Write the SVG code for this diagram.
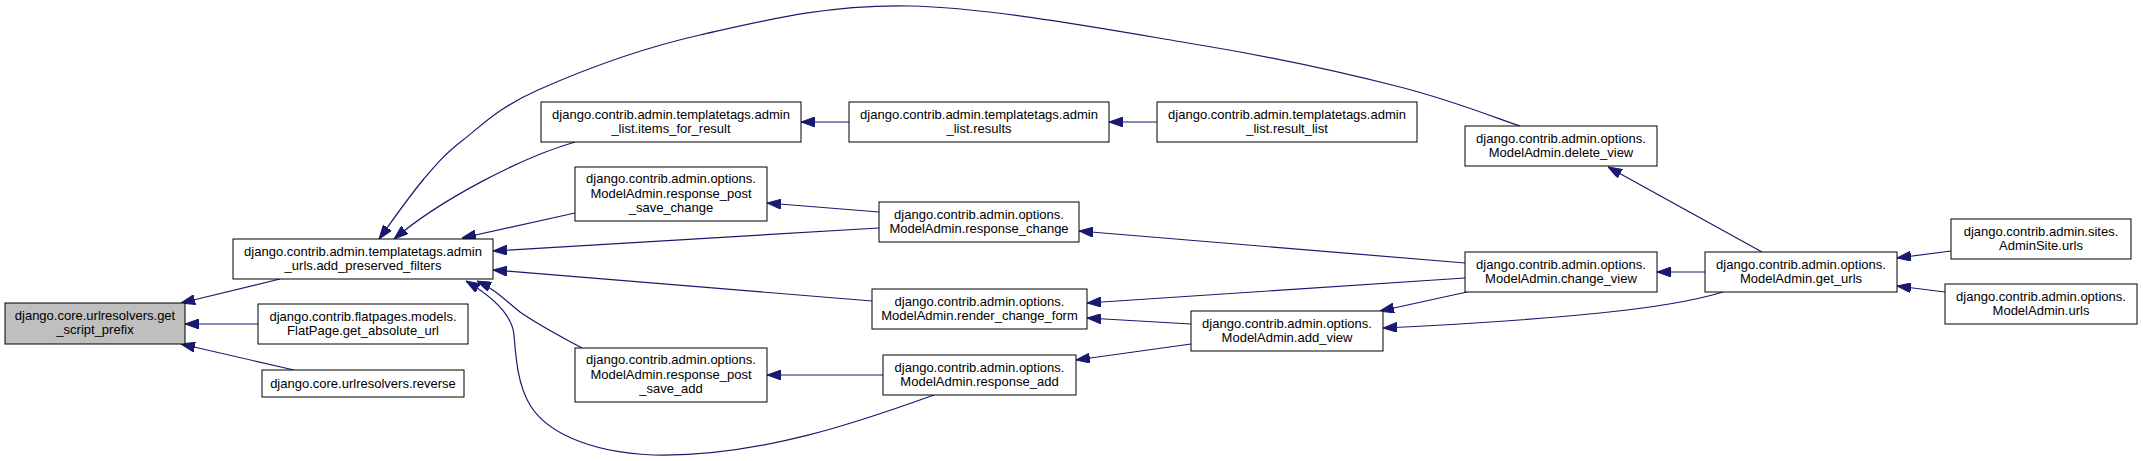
<svg xmlns="http://www.w3.org/2000/svg" width="2143" height="461" viewBox="0 0 2143 461">
<style>
.n rect{fill:#fff;stroke:#000;stroke-width:1}
.n.root rect{fill:#bfbfbf}
.n text{font-family:"Liberation Sans",Arial,sans-serif;font-size:13px;fill:#000;text-anchor:middle}
.e path{fill:none;stroke:#191970;stroke-width:1.2;marker-end:url(#ah)}
</style>
<defs>
<marker id="ah" markerUnits="userSpaceOnUse" markerWidth="14" markerHeight="10" refX="14" refY="5" orient="auto">
<path d="M0,0 L14,5 L0,10 z" fill="#191970" stroke="#191970" stroke-width="1"/>
</marker>
</defs>
<rect x="0" y="0" width="2143" height="461" fill="#fff"/>
<g id="edges" class="e">
<path d="M280,279 L181,303"/>
<path d="M258,324 L185,324"/>
<path d="M294,370 L181,344"/>
<path d="M575,142 C520,158 440,200 394,239"/>
<path d="M1520,126 C1500,119.5 1453,100.5 1400,87 C1347,73.5 1281.7,58.5 1200,45 C1118.3,31.5 993.3,7.7 910,6 C826.7,4.3 762,21 700,35 C638,49 577.5,72.5 538,90 C498.5,107.5 482.2,125 463,140 C443.8,155 437,163.5 423,180 C409,196.5 386.3,229.2 379,239"/>
<path d="M575,213 L462,238"/>
<path d="M879,228 L493,251"/>
<path d="M872,301 L493,270"/>
<path d="M582,348 C560,336 540,326 520,312 C505,300 495,289 477,281"/>
<path d="M934,395 C870,418 760,458 653,455 C585,452 545,430 530,405 C518,385 516,360 514,335 C512,312 488,294 466,281"/>
<path d="M849,122 L801,122"/>
<path d="M1157,122 L1109,122"/>
<path d="M879,212 L767,203"/>
<path d="M883,375 L767,375"/>
<path d="M1465,263 L1079,231"/>
<path d="M1465,278 L1087,303"/>
<path d="M1191,324 L1087,318"/>
<path d="M1191,344 L1076,360"/>
<path d="M1467,292 L1380,311"/>
<path d="M1723,292 C1690,302 1650,308 1600,313 C1530,320 1450,325 1383,328"/>
<path d="M1705,272 L1657,272"/>
<path d="M1762,252 L1608,167"/>
<path d="M1951,251 L1897,258"/>
<path d="M1945,292 L1897,286"/>
</g>
<g id="get_script_prefix" class="n root"><rect x="5" y="303" width="180" height="41"/><text x="95" y="319.5">django.core.urlresolvers.get</text><text x="95" y="334">_script_prefix</text></g>
<g id="add_preserved_filters" class="n"><rect x="233" y="239" width="260" height="40"/><text x="363" y="255.5">django.contrib.admin.templatetags.admin</text><text x="363" y="270">_urls.add_preserved_filters</text></g>
<g id="flatpage_get_absolute_url" class="n"><rect x="258" y="304" width="210" height="40"/><text x="363" y="320.5">django.contrib.flatpages.models.</text><text x="363" y="335">FlatPage.get_absolute_url</text></g>
<g id="reverse" class="n"><rect x="262" y="370" width="202" height="27"/><text x="363" y="388">django.core.urlresolvers.reverse</text></g>
<g id="items_for_result" class="n"><rect x="541" y="102" width="260" height="40"/><text x="671" y="118.5">django.contrib.admin.templatetags.admin</text><text x="671" y="133">_list.items_for_result</text></g>
<g id="results" class="n"><rect x="849" y="102" width="260" height="40"/><text x="979" y="118.5">django.contrib.admin.templatetags.admin</text><text x="979" y="133">_list.results</text></g>
<g id="result_list" class="n"><rect x="1157" y="102" width="260" height="40"/><text x="1287" y="118.5">django.contrib.admin.templatetags.admin</text><text x="1287" y="133">_list.result_list</text></g>
<g id="response_post_save_change" class="n"><rect x="575" y="167" width="192" height="54"/><text x="671" y="183">django.contrib.admin.options.</text><text x="671" y="197.5">ModelAdmin.response_post</text><text x="671" y="212">_save_change</text></g>
<g id="response_change" class="n"><rect x="879" y="202" width="200" height="40"/><text x="979" y="218.5">django.contrib.admin.options.</text><text x="979" y="233">ModelAdmin.response_change</text></g>
<g id="render_change_form" class="n"><rect x="872" y="289" width="215" height="40"/><text x="979.5" y="305.5">django.contrib.admin.options.</text><text x="979.5" y="320">ModelAdmin.render_change_form</text></g>
<g id="response_post_save_add" class="n"><rect x="575" y="348" width="192" height="54"/><text x="671" y="364">django.contrib.admin.options.</text><text x="671" y="378.5">ModelAdmin.response_post</text><text x="671" y="393">_save_add</text></g>
<g id="response_add" class="n"><rect x="883" y="355" width="193" height="40"/><text x="979.5" y="371.5">django.contrib.admin.options.</text><text x="979.5" y="386">ModelAdmin.response_add</text></g>
<g id="add_view" class="n"><rect x="1191" y="311" width="192" height="40"/><text x="1287" y="327.5">django.contrib.admin.options.</text><text x="1287" y="342">ModelAdmin.add_view</text></g>
<g id="delete_view" class="n"><rect x="1465" y="126" width="192" height="40"/><text x="1561" y="142.5">django.contrib.admin.options.</text><text x="1561" y="157">ModelAdmin.delete_view</text></g>
<g id="change_view" class="n"><rect x="1465" y="252" width="192" height="40"/><text x="1561" y="268.5">django.contrib.admin.options.</text><text x="1561" y="283">ModelAdmin.change_view</text></g>
<g id="get_urls" class="n"><rect x="1705" y="252" width="192" height="40"/><text x="1801" y="268.5">django.contrib.admin.options.</text><text x="1801" y="283">ModelAdmin.get_urls</text></g>
<g id="adminsite_urls" class="n"><rect x="1951" y="219" width="180" height="40"/><text x="2041" y="235.5">django.contrib.admin.sites.</text><text x="2041" y="250">AdminSite.urls</text></g>
<g id="modeladmin_urls" class="n"><rect x="1945" y="284" width="192" height="40"/><text x="2041" y="300.5">django.contrib.admin.options.</text><text x="2041" y="315">ModelAdmin.urls</text></g>
</svg>
